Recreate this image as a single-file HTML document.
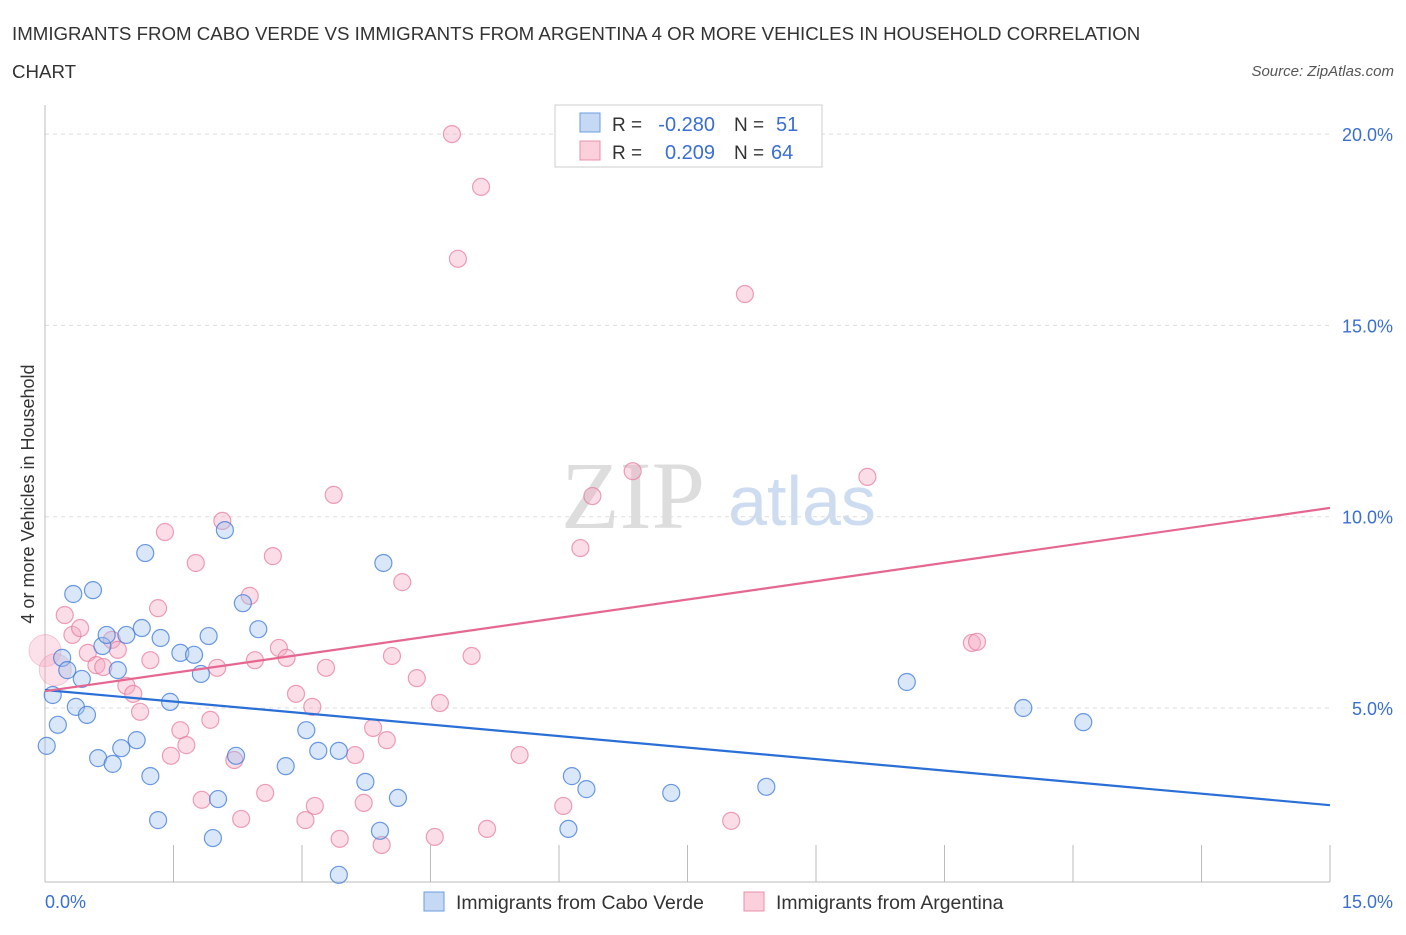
<!DOCTYPE html>
<html><head><meta charset="utf-8"><style>
body{margin:0;background:#fff;font-family:"Liberation Sans",sans-serif}
</style></head><body>
<svg width="1406" height="930" xmlns="http://www.w3.org/2000/svg">
<text x="12" y="40" font-size="18.7" fill="#333">IMMIGRANTS FROM CABO VERDE VS IMMIGRANTS FROM ARGENTINA 4 OR MORE VEHICLES IN HOUSEHOLD CORRELATION</text>
<text x="12" y="78" font-size="18.7" fill="#333">CHART</text>
<text x="1394" y="76" font-size="15" fill="#555" font-style="italic" text-anchor="end">Source: ZipAtlas.com</text>
<text x="633" y="528" font-size="96" fill="#ddd" font-family="Liberation Serif" text-anchor="middle">ZIP</text>
<text x="802" y="525" font-size="70" fill="#cddcf0" text-anchor="middle">atlas</text>
<g id="grid"></g>
<line x1="45" y1="105" x2="45" y2="882" stroke="#bbb"/>
<line x1="45" y1="882" x2="1330" y2="882" stroke="#bbb"/>
<g id="ticks"></g>
<text x="45" y="908" font-size="18" fill="#3a6fd0">0.0%</text>
<text x="1393" y="908" font-size="18" fill="#3a6fd0" text-anchor="end">15.0%</text>
<text transform="translate(34,494) rotate(-90)" font-size="18" fill="#333" text-anchor="middle">4 or more Vehicles in Household</text>
<g id="pts"></g>
<g id="lines"></g>
<g>
<rect x="555" y="105" width="267" height="62" fill="#fff" stroke="#ccc"/>
<rect x="580" y="113" width="20" height="19" fill="#c5d9f5" stroke="#6a9de0"/>
<rect x="580" y="141" width="20" height="19" fill="#fbd0dc" stroke="#e890aa"/>
<text x="612" y="131" font-size="19" fill="#333">R =</text>
<text x="715" y="131" font-size="20" fill="#3a6fd0" text-anchor="end">-0.280</text>
<text x="734" y="131" font-size="19" fill="#333">N =</text>
<text x="776" y="131" font-size="20" fill="#3a6fd0">51</text>
<text x="612" y="159" font-size="19" fill="#333">R =</text>
<text x="715" y="159" font-size="20" fill="#3a6fd0" text-anchor="end">0.209</text>
<text x="734" y="159" font-size="19" fill="#333">N =</text>
<text x="771" y="159" font-size="20" fill="#3a6fd0">64</text>
</g>
<g>
<rect x="424" y="892" width="20" height="19" fill="#c5d9f5" stroke="#6a9de0"/>
<text x="456" y="909" font-size="19.4" fill="#333">Immigrants from Cabo Verde</text>
<rect x="744" y="892" width="20" height="19" fill="#fbd0dc" stroke="#e890aa"/>
<text x="776" y="909" font-size="19.4" fill="#333">Immigrants from Argentina</text>
</g>
</svg>
<script>
const yTicks=[5,10,15,20];
const xTickVals=[0,1.5,3,4.5,6,7.5,9,10.5,12,13.5,15];
const bluePx=[[47,746],[53,695],[58,725],[62,658],[67,670],[73,594],[76,707],[82,679],[87,715],[93,590],[98,758],[102,646],[107,635],[113,764],[121,748],[126,635],[118,670],[137,740],[142,628],[145,553],[150,776],[158,820],[161,638],[170,702],[180,653],[194,655],[201,674],[209,636],[213,838],[218,799],[225,530],[236,756],[243,603],[258,629],[286,766],[306,730],[318,751],[339,751],[339,875],[365,782],[380,831],[383,563],[398,798],[568,829],[572,776],[586,789],[671,793],[766,787],[907,682],[1023,708],[1083,722]];
const pinkPx=[[65,615],[72,635],[80,628],[88,653],[96,665],[103,667],[112,640],[118,650],[126,686],[133,694],[140,712],[150,660],[158,608],[165,532],[171,756],[180,730],[186,745],[196,563],[202,800],[210,720],[217,668],[222,521],[234,760],[241,819],[250,596],[255,660],[265,793],[273,556],[279,648],[287,658],[296,694],[305,820],[312,707],[315,806],[326,668],[334,495],[340,839],[355,755],[364,803],[373,728],[382,845],[387,740],[392,656],[402,582],[417,678],[435,837],[440,703],[452,134],[458,259],[472,656],[481,187],[487,829],[520,755],[563,806],[580,548],[592,496],[633,471],[731,821],[745,294],[867,477],[972,643],[977,642]];
const blueX=bluePx.map(p=>+((p[0]-45)/1285*15).toFixed(2));
const blueY=bluePx.map(p=>+((899.3-p[1])/38.26).toFixed(2));
const pinkX=pinkPx.map(p=>+((p[0]-45)/1285*15).toFixed(2));
const pinkY=pinkPx.map(p=>+((899.3-p[1])/38.26).toFixed(2));
const bigPinkX=[0.0,0.12];
const bigPinkY=[6.5,6.0];
const blueTrend=[5.47,2.46];
const pinkTrend=[5.44,10.23];
const NS="http://www.w3.org/2000/svg";
const sx=v=>45+v/15*1285;
const sy=v=>899.3-v*38.26;
function mk(t,a,parent){const e=document.createElementNS(NS,t);for(const k in a)e.setAttribute(k,a[k]);document.getElementById(parent).appendChild(e);return e;}
yTicks.forEach(t=>{
 const l=mk('line',{x1:45,x2:1330,y1:sy(t),y2:sy(t),stroke:'#ddd','stroke-dasharray':'4,4'},'grid');
 
 
 const tx=mk('text',{x:1393,y:sy(t)+7,'font-size':18,fill:'#3a6fd0','text-anchor':'end'},'grid');
 tx.textContent=t.toFixed(1)+'%';
 
 
});
xTickVals.forEach(t=>{
 const l=mk('line',{x1:sx(t),x2:sx(t),y1:845,y2:882,stroke:'#bbb'},'ticks');
 
 
});
bigPinkX.forEach((x,i)=>{
 const c=mk('circle',{cx:sx(x),cy:sy(bigPinkY[i]),r:16,fill:'rgba(245,170,195,0.35)',stroke:'rgba(230,120,155,0.35)'},'pts');
 
 
});
pinkX.forEach((x,i)=>{
 const c=mk('circle',{cx:sx(x),cy:sy(pinkY[i]),r:8.5,fill:'rgba(245,170,195,0.4)',stroke:'rgba(230,120,155,0.7)','stroke-width':1.2},'pts');
 
 
});
blueX.forEach((x,i)=>{
 const c=mk('circle',{cx:sx(x),cy:sy(blueY[i]),r:8.5,fill:'rgba(160,195,240,0.4)',stroke:'rgba(60,120,215,0.75)','stroke-width':1.2},'pts');
 
 
});
const bl=mk('line',{x1:sx(0),y1:sy(blueTrend[0]),x2:sx(15),y2:sy(blueTrend[1]),stroke:'#2a6fd6','stroke-width':2.2},'lines');


const pl=mk('line',{x1:sx(0),y1:sy(pinkTrend[0]),x2:sx(15),y2:sy(pinkTrend[1]),stroke:'#e56790','stroke-width':2.2},'lines');


</script>
</body></html>
